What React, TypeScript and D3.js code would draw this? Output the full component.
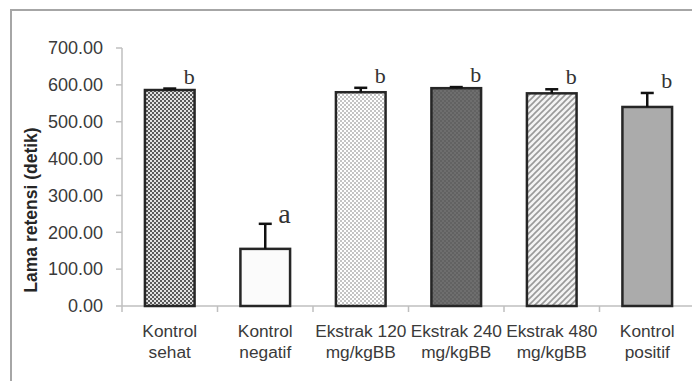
import React, { useRef, useEffect } from "react";
import * as d3 from "d3";

// chart values
const categories: string[][] = [
  ["Kontrol", "sehat"],
  ["Kontrol", "negatif"],
  ["Ekstrak 120", "mg/kgBB"],
  ["Ekstrak 240", "mg/kgBB"],
  ["Ekstrak 480", "mg/kgBB"],
  ["Kontrol", "positif"],
];
const means: number[] = [586, 155, 580, 591, 577, 540];
const errors: number[] = [4, 68, 12, 3, 11, 38];
const letters: string[] = ["b", "a", "b", "b", "b", "b"];
const yTicks: number[] = [0, 100, 200, 300, 400, 500, 600, 700];
const yTitle = "Lama retensi (detik)";

// bar fills (styles, kept apart from the data)
const barFills = [
  "url(#pCheckDark)",
  "#fbfbfb",
  "url(#pCheckLight)",
  "url(#pDarkGray)",
  "url(#pDiag)",
  "#ababab",
];

const W = 692;
const H = 381;

export default function App() {
  const svgRef = useRef<SVGSVGElement>(null);

  useEffect(() => {
    const svg = d3.select(svgRef.current);
    svg.selectAll("*").remove();

    const defs = svg.append("defs");

    // fine dark checker
    const p1 = defs.append("pattern").attr("id", "pCheckDark")
      .attr("patternUnits", "userSpaceOnUse").attr("width", 4).attr("height", 4);
    p1.append("rect").attr("width", 4).attr("height", 4).attr("fill", "#e2e2e2");
    p1.append("rect").attr("width", 2).attr("height", 2).attr("fill", "#5a5a5a");
    p1.append("rect").attr("x", 2).attr("y", 2).attr("width", 2).attr("height", 2).attr("fill", "#5a5a5a");

    // fine light checker
    const p2 = defs.append("pattern").attr("id", "pCheckLight")
      .attr("patternUnits", "userSpaceOnUse").attr("width", 4).attr("height", 4);
    p2.append("rect").attr("width", 4).attr("height", 4).attr("fill", "#ffffff");
    p2.append("rect").attr("width", 2).attr("height", 2).attr("fill", "#c4c4c4");
    p2.append("rect").attr("x", 2).attr("y", 2).attr("width", 2).attr("height", 2).attr("fill", "#c4c4c4");

    // dark gray with a faint texture
    const p3 = defs.append("pattern").attr("id", "pDarkGray")
      .attr("patternUnits", "userSpaceOnUse").attr("width", 4).attr("height", 4);
    p3.append("rect").attr("width", 4).attr("height", 4).attr("fill", "#6e6e6e");
    p3.append("rect").attr("width", 2).attr("height", 2).attr("fill", "#626262");
    p3.append("rect").attr("x", 2).attr("y", 2).attr("width", 2).attr("height", 2).attr("fill", "#626262");

    // light diagonal dashes
    const p4 = defs.append("pattern").attr("id", "pDiag")
      .attr("patternUnits", "userSpaceOnUse").attr("width", 6).attr("height", 6);
    p4.append("rect").attr("width", 6).attr("height", 6).attr("fill", "#f4f4f4");
    p4.append("path").attr("d", "M0,6 L6,0 M-1,1 L1,-1 M5,7 L7,5")
      .attr("stroke", "#9a9a9a").attr("stroke-width", 1.6);

    // outer frame
    svg.append("rect")
      .attr("x", 11).attr("y", 10).attr("width", 720).attr("height", 420)
      .attr("fill", "none").attr("stroke", "#a6a6a6").attr("stroke-width", 2);

    const x0 = 122;
    const x1 = 695;
    const x = d3.scaleBand<number>()
      .domain(d3.range(categories.length))
      .range([x0, x1])
      .paddingInner(0.48)
      .paddingOuter(0.24);
    const y = d3.scaleLinear().domain([0, 700]).range([306, 48]);

    const axisColor = "#bfbfbf";
    const textColor = "#3a3a3a";

    // y axis
    svg.append("line")
      .attr("x1", x0).attr("x2", x0).attr("y1", y(700)).attr("y2", y(0))
      .attr("stroke", axisColor).attr("stroke-width", 1.5);
    const yt = svg.append("g").selectAll("g").data(yTicks).join("g");
    yt.append("line")
      .attr("x1", x0 - 6).attr("x2", x0).attr("y1", (d) => y(d)).attr("y2", (d) => y(d))
      .attr("stroke", axisColor).attr("stroke-width", 1.5);
    yt.append("text")
      .attr("x", 103).attr("y", (d) => y(d)).attr("dy", "0.35em")
      .attr("text-anchor", "end")
      .attr("font-family", "'Liberation Sans', Arial, sans-serif")
      .attr("font-size", 18).attr("fill", textColor)
      .text((d) => d3.format(".2f")(d));

    // y title
    svg.append("text")
      .attr("transform", `translate(37,210) rotate(-90)`)
      .attr("text-anchor", "middle")
      .attr("font-family", "'Liberation Sans', Arial, sans-serif")
      .attr("font-size", 17.5).attr("font-weight", "bold").attr("fill", "#262626")
      .text(yTitle);

    // x axis
    svg.append("line")
      .attr("x1", x0).attr("x2", x1).attr("y1", y(0)).attr("y2", y(0))
      .attr("stroke", axisColor).attr("stroke-width", 1.5);
    const step = x.step();
    svg.append("g").selectAll("line").data(d3.range(categories.length + 1)).join("line")
      .attr("x1", (i) => x0 + i * step).attr("x2", (i) => x0 + i * step)
      .attr("y1", y(0)).attr("y2", y(0) + 6)
      .attr("stroke", axisColor).attr("stroke-width", 1.5);

    const xl = svg.append("g").selectAll("text").data(categories).join("text")
      .attr("text-anchor", "middle")
      .attr("font-family", "'Liberation Sans', Arial, sans-serif")
      .attr("font-size", 17.3).attr("fill", textColor);
    xl.selectAll("tspan").data((d, i) => d.map((t) => ({ t, i }))).join("tspan")
      .attr("x", (d) => x(d.i)! + x.bandwidth() / 2)
      .attr("y", (d, j) => 337 + j * 21)
      .text((d) => d.t);

    // bars
    svg.append("g").selectAll("rect").data(means).join("rect")
      .attr("x", (d, i) => x(i)!)
      .attr("y", (d) => y(d))
      .attr("width", x.bandwidth())
      .attr("height", (d) => y(0) - y(d))
      .attr("fill", (d, i) => barFills[i])
      .attr("stroke", "#262626")
      .attr("stroke-width", 2.5);

    // error bars (upper only)
    const cap = 6.5;
    const eb = svg.append("g").selectAll("g").data(means).join("g");
    eb.append("line")
      .attr("x1", (d, i) => x(i)! + x.bandwidth() / 2)
      .attr("x2", (d, i) => x(i)! + x.bandwidth() / 2)
      .attr("y1", (d) => y(d))
      .attr("y2", (d, i) => y(d + errors[i]))
      .attr("stroke", "#111").attr("stroke-width", 2.5);
    eb.append("line")
      .attr("x1", (d, i) => x(i)! + x.bandwidth() / 2 - cap)
      .attr("x2", (d, i) => x(i)! + x.bandwidth() / 2 + cap)
      .attr("y1", (d, i) => y(d + errors[i]))
      .attr("y2", (d, i) => y(d + errors[i]))
      .attr("stroke", "#111").attr("stroke-width", 2.5);

    // significance letters
    svg.append("g").selectAll("text").data(letters).join("text")
      .attr("x", (d, i) => x(i)! + x.bandwidth() / 2 + (d === "a" ? 13 : 14))
      .attr("y", (d, i) => y(means[i] + errors[i]) - (d === "a" ? 1 : 5))
      .attr("font-family", "'Liberation Serif', 'Times New Roman', serif")
      .attr("font-size", (d) => (d === "a" ? 28 : 22))
      .attr("fill", "#333")
      .text((d) => d);
  }, []);

  return (
    <svg
      ref={svgRef}
      width={W}
      height={H}
      style={{ position: "absolute", left: 0, top: 0, background: "#fff" }}
    />
  );
}
